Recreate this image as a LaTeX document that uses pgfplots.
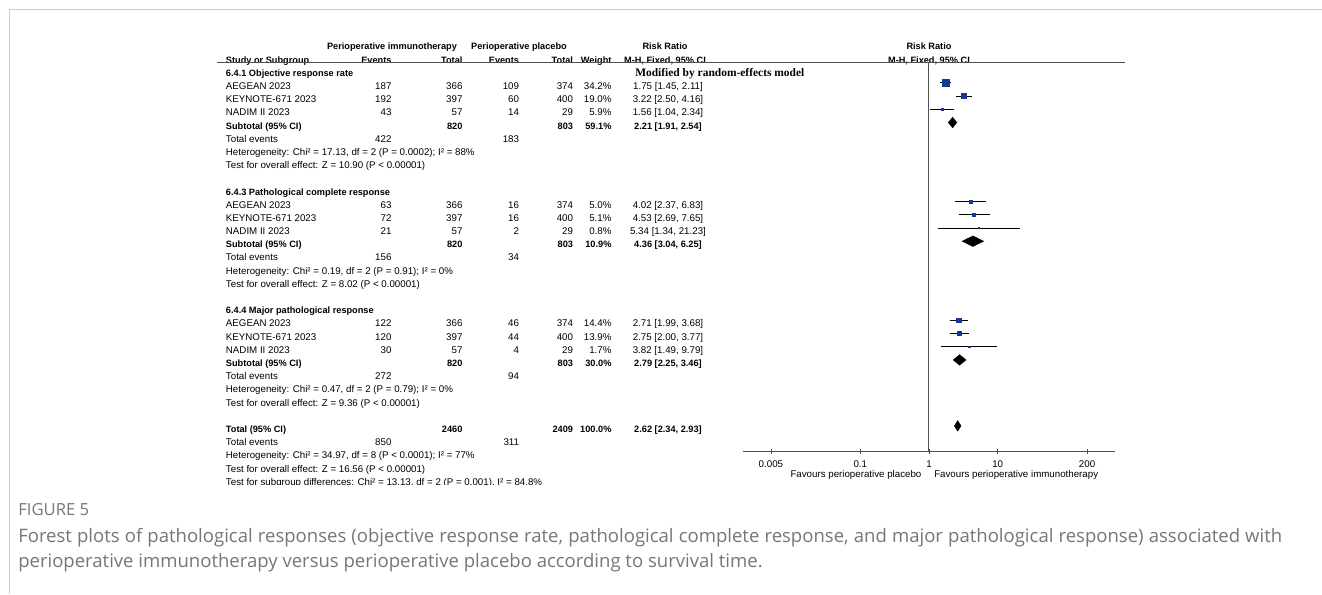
\documentclass[border=0pt]{standalone}
\usepackage{pgfplots}
\pgfplotsset{compat=1.18}
\usepackage{fontspec}
\setmainfont{Liberation Sans}
\newfontfamily\notefont{Liberation Serif}
\newfontfamily\capfont{Open Sans}

\definecolor{sqblue}{RGB}{22,56,150}
\definecolor{rule}{RGB}{80,80,80}
\definecolor{captxt}{RGB}{118,118,118}
\definecolor{framegray}{RGB}{205,205,205}

\newcommand\tfont{\fontsize{7.3}{8.5}\selectfont}
\newcommand\B{\fontsize{6.9}{8}\selectfont\bfseries}
% baseline (downward, in px) of table row #1
\newcommand\by[1]{-(76.3+13.19*(#1))}
\newcommand\Lc[3]{\node[anchor=base west,inner sep=0pt,font=\tfont] at (#1,{\by{#2}}) {#3};}
\newcommand\Rc[3]{\node[anchor=base east,inner sep=0pt,font=\tfont] at (#1,{\by{#2}}) {#3};}
\newcommand\Cc[3]{\node[anchor=base,inner sep=0pt,font=\tfont] at (#1,{\by{#2}}) {#3};}
% row, study, events, total, events, total, weight, risk ratio
\newcommand\trow[8]{\Lc{225.7}{#1}{#2}\Rc{391.7}{#1}{#3}\Rc{462.7}{#1}{#4}%
  \Rc{519.3}{#1}{#5}\Rc{573.3}{#1}{#6}\Rc{611.7}{#1}{#7}\Cc{668}{#1}{#8}}

% individual studies: risk ratio, 95% CI, plot row, marker size (weight)
\pgfplotstableread{
rr   lo   hi    row  ms
1.75 1.45 2.11  -1   2.51
3.22 2.50 4.16  -2   1.87
1.56 1.04 2.34  -3   1.05
4.02 2.37 6.83  -10  0.97
4.53 2.69 7.65  -11  0.98
5.34 1.34 21.23 -12  0.55
2.71 1.99 3.68  -19  1.63
2.75 2.00 3.77  -20  1.60
3.82 1.49 9.79  -21  0.60
}\studies

\begin{document}
\begin{tikzpicture}[x=0.75pt,y=0.75pt]
\useasboundingbox (0,0) rectangle (1322,-594);

% page frame
\draw[framegray,line width=0.75pt] (9.3,-594) -- (9.3,-9.3) -- (1322,-9.3);

% header
\Cc{392}{-2}{\B Perioperative immunotherapy}
\Cc{519}{-2}{\B Perioperative placebo}
\Cc{665}{-2}{\B Risk Ratio}
\Cc{929}{-2}{\B Risk Ratio}
\Lc{225.7}{-1}{\B Study or Subgroup}
\Rc{391.7}{-1}{\B Events}
\Rc{462.7}{-1}{\B Total}
\Rc{519.3}{-1}{\B Events}
\Rc{573.3}{-1}{\B Total}
\Rc{611.7}{-1}{\B Weight}
\Cc{665}{-1}{\B M-H, Fixed, 95\% CI}
\Cc{929}{-1}{\B M-H, Fixed, 95\% CI}
\draw[rule,line width=0.75pt] (217,-62.7) -- (1125,-62.7);

\begin{scope}
\clip (0,0) rectangle (1322,-484);
% 6.4.1
\Lc{225.7}{0}{\B 6.4.1 Objective response rate}
\node[anchor=base west,inner sep=0pt,font=\notefont\bfseries\fontsize{8.6}{10}\selectfont] at (635,{\by{0}}) {Modified by random-effects model};
\trow{1}{AEGEAN 2023}{187}{366}{109}{374}{34.2\%}{1.75 [1.45, 2.11]}
\trow{2}{KEYNOTE-671 2023}{192}{397}{60}{400}{19.0\%}{3.22 [2.50, 4.16]}
\trow{3}{NADIM II 2023}{43}{57}{14}{29}{5.9\%}{1.56 [1.04, 2.34]}
\trow{4}{\B Subtotal (95\% CI)}{}{\B 820}{}{\B 803}{\B 59.1\%}{\B 2.21 [1.91, 2.54]}
\trow{5}{Total events}{422}{}{183}{}{}{}
\Lc{225.7}{6}{Heterogeneity: Chi² = 17.13, df = 2 (P = 0.0002); I² = 88\%}
\Lc{225.7}{7}{Test for overall effect: Z = 10.90 (P < 0.00001)}
% 6.4.3
\Lc{225.7}{9}{\B 6.4.3 Pathological complete response}
\trow{10}{AEGEAN 2023}{63}{366}{16}{374}{5.0\%}{4.02 [2.37, 6.83]}
\trow{11}{KEYNOTE-671 2023}{72}{397}{16}{400}{5.1\%}{4.53 [2.69, 7.65]}
\trow{12}{NADIM II 2023}{21}{57}{2}{29}{0.8\%}{5.34 [1.34, 21.23]}
\trow{13}{\B Subtotal (95\% CI)}{}{\B 820}{}{\B 803}{\B 10.9\%}{\B 4.36 [3.04, 6.25]}
\trow{14}{Total events}{156}{}{34}{}{}{}
\Lc{225.7}{15}{Heterogeneity: Chi² = 0.19, df = 2 (P = 0.91); I² = 0\%}
\Lc{225.7}{16}{Test for overall effect: Z = 8.02 (P < 0.00001)}
% 6.4.4
\Lc{225.7}{18}{\B 6.4.4 Major pathological response}
\trow{19}{AEGEAN 2023}{122}{366}{46}{374}{14.4\%}{2.71 [1.99, 3.68]}
\trow{20}{KEYNOTE-671 2023}{120}{397}{44}{400}{13.9\%}{2.75 [2.00, 3.77]}
\trow{21}{NADIM II 2023}{30}{57}{4}{29}{1.7\%}{3.82 [1.49, 9.79]}
\trow{22}{\B Subtotal (95\% CI)}{}{\B 820}{}{\B 803}{\B 30.0\%}{\B 2.79 [2.25, 3.46]}
\trow{23}{Total events}{272}{}{94}{}{}{}
\Lc{225.7}{24}{Heterogeneity: Chi² = 0.47, df = 2 (P = 0.79); I² = 0\%}
\Lc{225.7}{25}{Test for overall effect: Z = 9.36 (P < 0.00001)}
% overall
\trow{27}{\B Total (95\% CI)}{}{\B 2460}{}{\B 2409}{\B 100.0\%}{\B 2.62 [2.34, 2.93]}
\trow{28}{Total events}{850}{}{311}{}{}{}
\Lc{225.7}{29}{Heterogeneity: Chi² = 34.97, df = 8 (P < 0.0001); I² = 77\%}
\Lc{225.7}{30}{Test for overall effect: Z = 16.56 (P < 0.00001)}
\Lc{225.7}{31}{Test for subgroup differences: Chi² = 13.13, df = 2 (P = 0.001), I² = 84.8\%}
\end{scope}

% forest plot
\begin{axis}[
  at={(557.0pt,-338.8pt)}, anchor=south west,
  scale only axis, width=279.45pt, height=291.75pt,
  xmode=log, xmin=0.00194, xmax=515, ymin=-28.96, ymax=0.53,
  axis x line*=bottom, axis y line=none,
  x axis line style={rule,line width=0.75pt},
  xtick={0.005,0.1,1,10,200}, xticklabels={0.005,0.1,1,10,200},
  minor xtick={},
  major tick length=3.75pt, tick align=center,
  tick style={rule,line width=0.6pt},
  xticklabel style={font=\tfont,yshift=-1.2pt},
  clip=false,
]
% line of no effect
\addplot[rule,line width=0.75pt] coordinates {(1,0.53) (1,-28.96)};
% confidence intervals
\addplot[black,line width=0.75pt] coordinates {(1.45,-1) (2.11,-1)};
\addplot[black,line width=0.75pt] coordinates {(2.50,-2) (4.16,-2)};
\addplot[black,line width=0.75pt] coordinates {(1.04,-3) (2.34,-3)};
\addplot[black,line width=0.75pt] coordinates {(2.37,-10) (6.83,-10)};
\addplot[black,line width=0.75pt] coordinates {(2.69,-11) (7.65,-11)};
\addplot[black,line width=0.75pt] coordinates {(1.34,-12) (21.23,-12)};
\addplot[black,line width=0.75pt] coordinates {(1.99,-19) (3.68,-19)};
\addplot[black,line width=0.75pt] coordinates {(2.00,-20) (3.77,-20)};
\addplot[black,line width=0.75pt] coordinates {(1.49,-21) (9.79,-21)};
% study weights as square size
\addplot[scatter, only marks, mark=square*, scatter src=explicit,
  scatter/use mapped color={draw=sqblue,fill=sqblue},
  visualization depends on={\thisrow{ms}\as\msz},
  scatter/@pre marker code/.append style={/tikz/mark size=\msz}]
  table[x=rr,y=row,meta=ms] {\studies};
% pooled estimates
\addplot[fill=black,draw=black,line width=0.3pt] coordinates {(1.91,-4) (2.21,-3.6) (2.54,-4) (2.21,-4.4)} -- cycle;
\addplot[fill=black,draw=black,line width=0.3pt] coordinates {(3.04,-13) (4.36,-12.6) (6.25,-13) (4.36,-13.4)} -- cycle;
\addplot[fill=black,draw=black,line width=0.3pt] coordinates {(2.25,-22) (2.79,-21.6) (3.46,-22) (2.79,-22.4)} -- cycle;
\addplot[fill=black,draw=black,line width=0.3pt] coordinates {(2.34,-27) (2.62,-26.6) (2.93,-27) (2.62,-27.4)} -- cycle;
\end{axis}

\node[anchor=base east,inner sep=0pt,font=\tfont] at (921.7,-477.3) {Favours perioperative placebo};
\node[anchor=base west,inner sep=0pt,font=\tfont] at (934,-477.3) {Favours perioperative immunotherapy};

% caption (first line justified to the full width)
\node[anchor=base west,inner sep=0pt,text=captxt,font=\capfont\fontsize{12.5}{14}\selectfont] at (18,-515.5) {FIGURE 5};
\node[anchor=base west,inner sep=0pt,text=captxt,font=\capfont\fontsize{13.9}{16}\selectfont] at (18,-542) {\makebox[948pt][s]{Forest plots of pathological responses (objective response rate, pathological complete response, and major pathological response) associated with}};
\node[anchor=base west,inner sep=0pt,text=captxt,font=\capfont\fontsize{13.9}{16}\selectfont] at (18,-567.5) {perioperative immunotherapy versus perioperative placebo according to survival time.};
\end{tikzpicture}
\end{document}
